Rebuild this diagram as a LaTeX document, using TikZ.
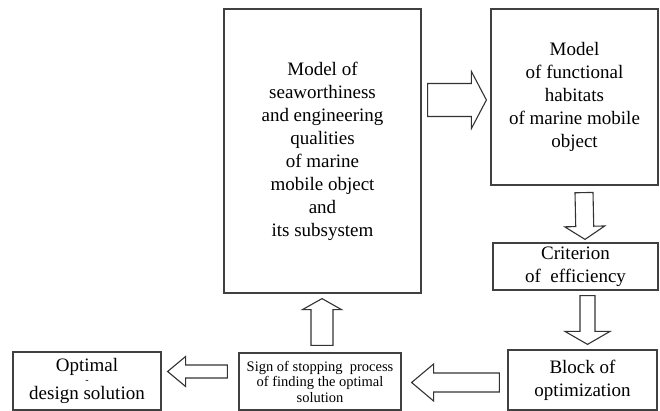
\documentclass[tikz,border=0pt]{standalone}
\usepackage{fontspec}
\setmainfont{Liberation Serif}
\usetikzlibrary{calc}

\tikzset{
  box/.style={draw=black!75, line width=1.2pt, align=center, inner sep=0pt},
  bigtext/.style={font=\fontsize{19}{23}\selectfont},
  smalltext/.style={font=\fontsize{14.5}{15.5}\selectfont},
  fat/.style={draw=black!80, line width=1.1pt, fill=white, line join=miter}
}
% block arrow from #1 to #2: shaft half width #3, head half width #4, head length #5
\newcommand{\blockarrow}[5]{%
  \coordinate (hb) at ($(#2)!#5!(#1)$);
  \draw[fat] ($(#1)!#3!90:(#2)$) -- ($(hb)!#3!90:(#2)$) -- ($(hb)!#4!90:(#2)$) -- (#2)
    -- ($(hb)!#4!-90:(#2)$) -- ($(hb)!#3!-90:(#2)$) -- ($(#1)!#3!-90:(#2)$) -- cycle;
}

\begin{document}
\begin{tikzpicture}[x=1pt, y=-1pt]
\useasboundingbox (0,0) rectangle (660,411);

% Boxes
\node[box, bigtext, minimum width=197, minimum height=284] (seaw) at (322.5,151)
  {Model of\\seaworthiness\\and engineering\\qualities\\of marine\\mobile object\\and\\its subsystem};
\node[box, bigtext, minimum width=167, minimum height=176] (habit) at (574.5,97)
  {Model\\of functional\\habitats\\of marine mobile\\object};
\node[box, bigtext, minimum width=165, minimum height=47] (crit) at (575.5,266.5)
  {Criterion\\of\ \ efficiency};
\node[box, bigtext, minimum width=149, minimum height=60] (optim) at (582.5,380)
  {Block of\\optimization};
\node[box, smalltext, minimum width=162, minimum height=57] (sign) at (320,381.5)
  {Sign of stopping\ \ process\\of finding the optimal\\solution};
\node[box, bigtext, minimum width=148, minimum height=58] (optsol) at (87,381)
  {Optimal\\[-11pt]{\fontsize{10}{10}\selectfont -}\\[-7pt]design solution};

% Arrow ends
\coordinate (a1s) at ($(seaw.east |- habit.west)+(6,3)$);
\coordinate (a1e) at ($(habit.west)+(-4,3)$);
\coordinate (a2s) at ($(habit.south)+(9.5,7)$);
\coordinate (a2e) at ($(crit.north)+(9.5,-3)$);
\coordinate (a3s) at ($(crit.south)+(12,5)$);
\coordinate (a3e) at ($(optim.north)+(5,-5)$);
\coordinate (a4s) at ($(optim.west)+(-8,2.5)$);
\coordinate (a4e) at ($(sign.east)+(10,1)$);
\coordinate (a5s) at ($(sign.north)+(2,-7)$);
\coordinate (a5e) at ($(seaw.south)+(-0.5,5)$);
\coordinate (a6s) at ($(sign.west)+(-11,-10)$);
\coordinate (a6e) at ($(optsol.east)+(6,-9.5)$);

% Block arrows
\blockarrow{a1s}{a1e}{16.5pt}{28.5pt}{15pt}
\blockarrow{a2s}{a2e}{9pt}{20pt}{13pt}
\blockarrow{a3s}{a3e}{7.5pt}{22.5pt}{13pt}
\blockarrow{a4s}{a4e}{9.5pt}{18.5pt}{22pt}
\blockarrow{a5s}{a5e}{11pt}{19.5pt}{11pt}
\blockarrow{a6s}{a6e}{6.5pt}{15pt}{18pt}

\end{tikzpicture}
\end{document}
